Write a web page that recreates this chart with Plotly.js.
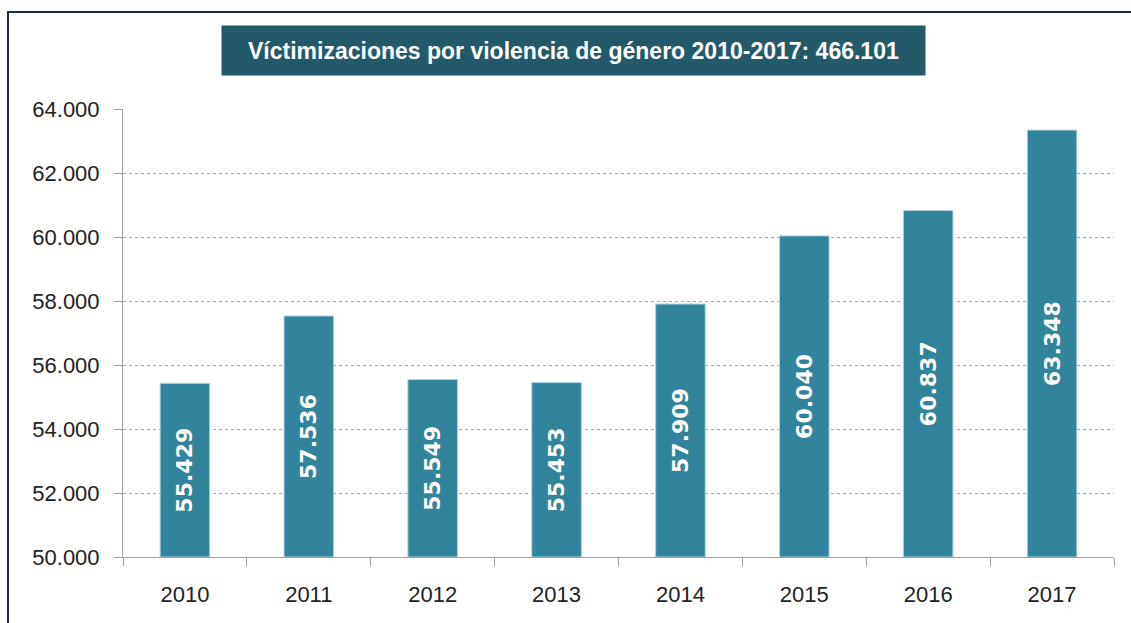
<!DOCTYPE html>
<html>
<head>
<meta charset="utf-8">
<script src="https://cdn.plot.ly/plotly-3.0.1.min.js"></script>
<style>
  html, body { margin: 0; padding: 0; background: #ffffff; overflow: hidden; }
  #chart { width: 1131px; height: 623px; position: absolute; left: 0; top: 0; }
  #frame { position: absolute; left: 7px; top: 11px; width: 1200px; height: 700px;
           border-left: 2px solid #1c2c47; border-top: 2px solid #1c2c47; pointer-events: none; }
</style>
</head>
<body>
<div id="chart"></div>
<div id="frame"></div>
<script>
const years = ["2010", "2011", "2012", "2013", "2014", "2015", "2016", "2017"];
const victims = [55429, 57536, 55549, 55453, 57909, 60040, 60837, 63348];
const yTicks = [50000, 52000, 54000, 56000, 58000, 60000, 62000, 64000];
const yMin = 50000, yMax = 64000;
const titleText = "Víctimizaciones por violencia de género 2010-2017: 466.101";

function fmt(v) {
  const s = String(v);
  return s.slice(0, s.length - 3) + "." + s.slice(-3);
}

const trace = {
  type: "bar",
  x: years,
  base: yMin,
  y: victims.map(v => v - yMin),
  width: 0.4,
  marker: { color: "#31849b", line: { color: "#a9d3df", width: 1 } },
  text: victims.map(fmt),
  texttemplate: "%{text}",
  textposition: "inside",
  insidetextanchor: "middle",
  textangle: -90,
  constraintext: "none",
  textfont: { family: "DejaVu Sans", size: 22, color: "#ffffff", weight: "bold" },
  hoverinfo: "skip"
};

const layout = {
  width: 1131,
  height: 623,
  margin: { l: 123, r: 17, t: 109, b: 66 },
  paper_bgcolor: "rgba(0,0,0,0)",
  plot_bgcolor: "rgba(0,0,0,0)",
  showlegend: false,
  xaxis: {
    type: "category",
    tickson: "boundaries",
    ticks: "outside",
    ticklen: 8,
    tickcolor: "#a0a0a0",
    tickwidth: 1,
    showline: true,
    linecolor: "#a0a0a0",
    linewidth: 1,
    showgrid: false,
    ticklabelstandoff: 18,
    tickfont: { family: "Liberation Sans", size: 22, color: "#222222" }
  },
  yaxis: {
    range: [yMin, yMax + 8],
    tickvals: yTicks,
    ticktext: yTicks.map(fmt),
    ticks: "outside",
    ticklen: 8,
    tickcolor: "#a0a0a0",
    tickwidth: 1,
    showline: true,
    linecolor: "#a0a0a0",
    linewidth: 1,
    showgrid: true,
    gridcolor: "#a6a6a6",
    griddash: "dot",
    gridwidth: 1,
    zeroline: false,
    ticklabelstandoff: 10,
    tickfont: { family: "Liberation Sans", size: 22, color: "#222222" }
  },
  annotations: [{
    xref: "paper", yref: "paper",
    x: (573 - 123) / 991, y: (557 - 51) / 448,
    xanchor: "center", yanchor: "middle",
    showarrow: false,
    text: "<b>" + titleText + "</b>",
    font: { family: "Liberation Sans", size: 23, color: "#ffffff" },
    bgcolor: "#235a6a",
    width: 703,
    height: 49,
    borderpad: 0
  }]
};

Plotly.newPlot("chart", [trace], layout, { displayModeBar: false, staticPlot: true });
</script>
</body>
</html>
